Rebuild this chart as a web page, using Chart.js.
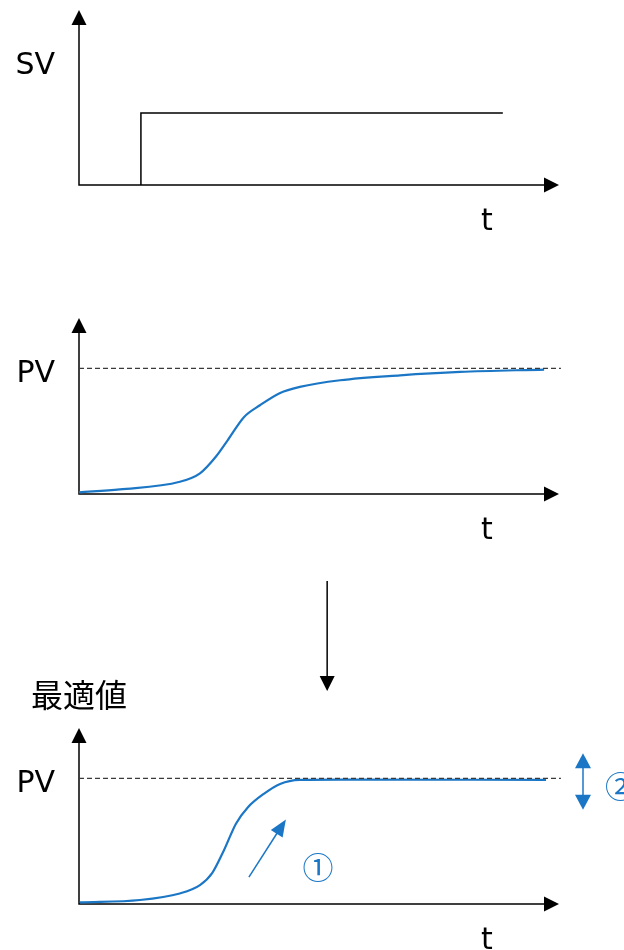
<!DOCTYPE html>
<html><head><meta charset="utf-8">
<script src="https://cdn.jsdelivr.net/npm/chart.js@4.4.1/dist/chart.umd.min.js"></script>
<style>
html,body{margin:0;padding:0;background:#fff;width:624px;height:950px;overflow:hidden;}
.w{position:absolute;left:0;width:624px;}
</style></head><body>
<div class="w" style="top:0;height:260px"><canvas id="c1"></canvas></div>
<div class="w" style="top:300px;height:260px"><canvas id="c2"></canvas></div>
<div class="w" style="top:560px;height:390px"><canvas id="c3"></canvas></div>
<script>
// ---- data ----
const svTime   = [12.9, 12.9, 88.3];
const svValues = [0, 0.576, 0.576];

const pvTime   = [0, 8.5, 21, 25.2, 28.5, 31, 34.4, 37.7, 41.9, 46, 54.4, 66.9, 79.4, 96.9];
const pvValues = [0.013, 0.037, 0.097, 0.164, 0.296, 0.429, 0.613, 0.706, 0.804, 0.852, 0.905, 0.944, 0.971, 0.99];

const optTime   = [0.2, 12.7, 21, 25.2, 27.7, 30.2, 32.7, 35.2, 38.5, 41.9, 46, 54.4, 97.3];
const optValues = [0.013, 0.032, 0.084, 0.15, 0.243, 0.428, 0.639, 0.77, 0.876, 0.955, 0.987, 0.99, 0.987];

const refTime   = [0, 100.4];
const refValues = [1, 1];

const yLabelValue = 1;          // where SV / PV labels sit
const xLabelValue = 85;         // where "t" sits
const panelYLabels = ['SV', 'PV', 'PV'];
const xLabel = 't';
const optTitle = '最適値';
const mark1 = '①';
const mark2 = '②';

const BLUE = '#1b77c5';
const FONT = "'DejaVu Sans', Verdana, sans-serif";
const CJK = "'Noto Sans CJK JP', sans-serif";

const pts = (xs, ys) => xs.map((x, i) => ({x, y: ys[i]}));

function arrowHead(ctx, tipX, tipY, dx, dy, len, half) {
  const n = Math.hypot(dx, dy); const ux = dx / n, uy = dy / n;
  const bx = tipX - ux * len, by = tipY - uy * len;
  ctx.beginPath();
  ctx.moveTo(tipX, tipY);
  ctx.lineTo(bx - uy * half, by + ux * half);
  ctx.lineTo(bx + uy * half, by - ux * half);
  ctx.closePath(); ctx.fill();
}

const axesPlugin = {
  id: 'axesArrows',
  beforeDatasetsDraw(chart) {
    const {ctx, chartArea: {left, right, top, bottom}} = chart;
    ctx.save();
    ctx.strokeStyle = '#000'; ctx.fillStyle = '#000'; ctx.lineWidth = 1.5;
    ctx.beginPath();
    ctx.moveTo(left, bottom); ctx.lineTo(left, top + 12);
    ctx.moveTo(left - 0.75, bottom); ctx.lineTo(right - 12, bottom);
    ctx.stroke();
    arrowHead(ctx, left, top, 0, -1, 15, 7.5);
    arrowHead(ctx, right, bottom, 1, 0, 15, 7.5);
    ctx.restore();
  }
};

const noPad = s => { s.paddingTop = 0; s.paddingBottom = 0; s.paddingLeft = 0; s.paddingRight = 0; };

function makeChart(id, datasets, yLabel, padTop, xHeight, extra) {
  return new Chart(document.getElementById(id), {
    type: 'line',
    data: { datasets },
    options: {
      responsive: true, maintainAspectRatio: false, animation: false,
      events: [],
      layout: { padding: { left: 0, right: 65, top: padTop, bottom: 0 } },
      plugins: { legend: { display: false }, tooltip: { enabled: false } },
      scales: {
        x: {
          type: 'linear', min: 0, max: 100,
          afterBuildTicks: s => { s.ticks = [{ value: xLabelValue }]; },
          afterFit: s => { s.height = xHeight; noPad(s); },
          ticks: { callback: () => xLabel, font: { family: FONT, size: 30 }, color: '#000', padding: 19, maxRotation: 0 },
          grid: { display: false, drawTicks: false }, border: { display: false }
        },
        y: {
          min: 0, max: 1.4,
          afterBuildTicks: s => { s.ticks = [{ value: yLabelValue }]; },
          afterFit: s => { s.width = 79; noPad(s); },
          ticks: { callback: () => yLabel, font: { family: FONT, size: 30 }, color: '#000', padding: 24, labelOffset: 6 },
          grid: { display: false, drawTicks: false }, border: { display: false }
        }
      }
    },
    plugins: [axesPlugin].concat(extra || [])
  });
}

const lineDs = (data, color, width) => ({ data, borderColor: color, borderWidth: width, pointRadius: 0, fill: false });
const dashDs = () => ({ data: pts(refTime, refValues), borderColor: '#3a3a3a', borderWidth: 1.3, borderDash: [5, 3], pointRadius: 0, clip: false });

// panel 1
makeChart('c1', [ Object.assign(lineDs(pts(svTime, svValues), '#000', 1.5), { tension: 0 }) ], panelYLabels[0], 10, 75);

// panel 2
makeChart('c2', [
  dashDs(),
  Object.assign(lineDs(pts(pvTime, pvValues), BLUE, 2.2), { cubicInterpolationMode: 'monotone' })
], panelYLabels[1], 18, 66);

// panel 3 annotations
const annot = {
  id: 'annot',
  afterDraw(chart) {
    const {ctx} = chart; const xs = chart.scales.x, ys = chart.scales.y;
    ctx.save();
    // down arrow from the panel above
    const ax = xs.getPixelForValue(51.7);
    ctx.strokeStyle = '#000'; ctx.fillStyle = '#000'; ctx.lineWidth = 1.5;
    ctx.beginPath(); ctx.moveTo(ax, 21); ctx.lineTo(ax, 119); ctx.stroke();
    arrowHead(ctx, ax, 131, 0, 1, 15, 7.5);
    // title
    ctx.font = '32px ' + CJK; ctx.textBaseline = 'middle'; ctx.textAlign = 'left';
    ctx.fillText(optTitle, 31, 135);
    // arrow 1
    ctx.strokeStyle = BLUE; ctx.fillStyle = BLUE; ctx.lineWidth = 1.5;
    const x0 = xs.getPixelForValue(35.4), y0 = ys.getPixelForValue(0.214);
    const x1 = xs.getPixelForValue(43.1), y1 = ys.getPixelForValue(0.673);
    const dx = x1 - x0, dy = y1 - y0, n = Math.hypot(dx, dy);
    ctx.beginPath(); ctx.moveTo(x0, y0); ctx.lineTo(x1 - dx / n * 12, y1 - dy / n * 12); ctx.stroke();
    arrowHead(ctx, x1, y1, dx, dy, 17, 7);
    ctx.font = '31px ' + CJK; ctx.textAlign = 'center';
    ctx.fillText(mark1, xs.getPixelForValue(49.8), ys.getPixelForValue(0.29));
    // double arrow 2
    const bx = xs.getPixelForValue(105);
    const ty = ys.getPixelForValue(1.2), by = ys.getPixelForValue(0.75);
    ctx.beginPath(); ctx.moveTo(bx, ty + 10); ctx.lineTo(bx, by - 10); ctx.stroke();
    arrowHead(ctx, bx, ty, 0, -1, 15, 8);
    arrowHead(ctx, bx, by, 0, 1, 15, 8);
    ctx.textAlign = 'left';
    ctx.fillText(mark2, xs.getPixelForValue(109.6), ys.getPixelForValue(0.94));
    ctx.restore();
  }
};

makeChart('c3', [
  dashDs(),
  Object.assign(lineDs(pts(optTime, optValues), BLUE, 2.2), { cubicInterpolationMode: 'monotone' })
], panelYLabels[2], 168, 46, [annot]);
</script>
</body></html>
